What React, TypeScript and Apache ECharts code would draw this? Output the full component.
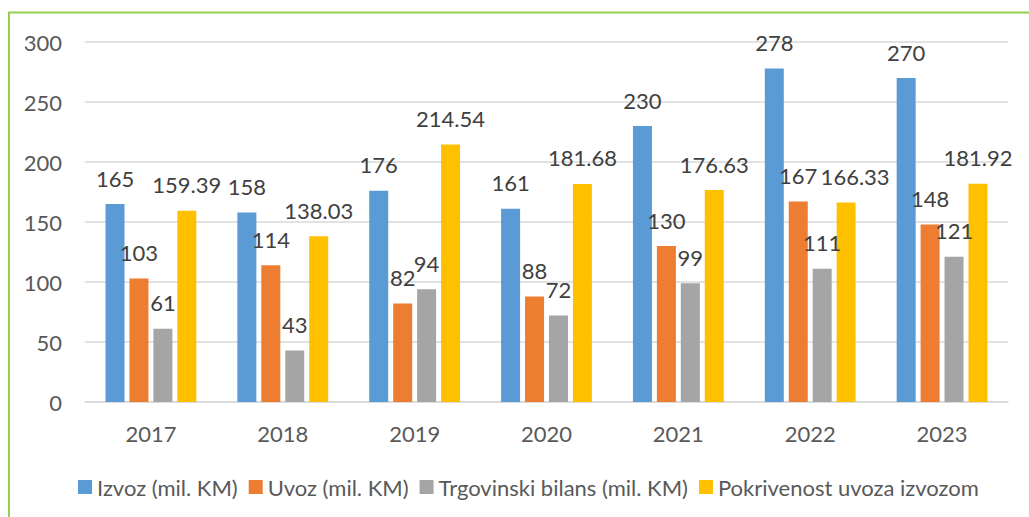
import React, { useEffect, useRef } from "react";
import * as echarts from "echarts";

const years = ["2017", "2018", "2019", "2020", "2021", "2022", "2023"];
const izvoz = [165, 158, 176, 161, 230, 278, 270];
const uvoz = [103, 114, 82, 88, 130, 167, 148];
const bilans = [61, 43, 94, 72, 99, 111, 121];
const pokrivenost = [159.39, 138.03, 214.54, 181.68, 176.63, 166.33, 181.92];
const seriesNames = [
  "Izvoz (mil. KM)",
  "Uvoz (mil. KM)",
  "Trgovinski bilans (mil. KM)",
  "Pokrivenost uvoza izvozom",
];
const colors = ["#5B9BD5", "#ED7D31", "#A5A5A5", "#FFC000"];

const FONT = "Lato";

export default function App() {
  const ref = useRef<HTMLDivElement>(null);
  useEffect(() => {
    if (!ref.current) return;
    const chart = echarts.init(ref.current, null, { renderer: "svg" });
    const datasets = [izvoz, uvoz, bilans, pokrivenost];
    chart.setOption({
      animation: false,
      backgroundColor: "#ffffff",
      textStyle: { fontFamily: FONT },
      graphic: [
        {
          type: "rect",
          shape: { x: 9, y: 12.5, width: 1200, height: 700 },
          style: { fill: "none", stroke: "#92D050", lineWidth: 2 },
          silent: true,
        },
      ],
      grid: { left: 85, right: 21, top: 42, bottom: 115 },
      legend: {
        left: 73,
        top: 471,
        itemWidth: 14,
        itemHeight: 14,
        itemGap: 11,
        icon: "rect",
        textStyle: { fontFamily: FONT, fontSize: 22, color: "#595959" },
        data: seriesNames,
      },
      xAxis: {
        type: "category",
        data: years,
        axisTick: { show: false },
        axisLine: { lineStyle: { color: "#D9D9D9", width: 1.5 } },
        axisLabel: { fontFamily: FONT, fontSize: 22, color: "#595959", margin: 20 },
      },
      yAxis: {
        type: "value",
        min: 0,
        max: 300,
        interval: 50,
        axisLine: { show: false },
        axisTick: { show: false },
        splitLine: { lineStyle: { color: "#D9D9D9", width: 1.5 } },
        axisLabel: { fontFamily: FONT, fontSize: 22, color: "#595959", margin: 23 },
      },
      series: datasets.map((d, i) => ({
        name: seriesNames[i],
        type: "bar",
        data: d.map((v, j) =>
          i === 3 && j === 5 ? { value: v, label: { offset: [9, 0] } } : v
        ),
        barWidth: 19,
        barGap: "26%",
        itemStyle: { color: colors[i] },
        label: {
          show: true,
          position: "top",
          distance: 15,
          fontFamily: FONT,
          fontSize: 22,
          color: "#404040",
        },
      })),
    });
    return () => chart.dispose();
  }, []);
  return (
    <div
      ref={ref}
      style={{ position: "fixed", left: 0, top: 0, width: 1029, height: 517 }}
    />
  );
}
